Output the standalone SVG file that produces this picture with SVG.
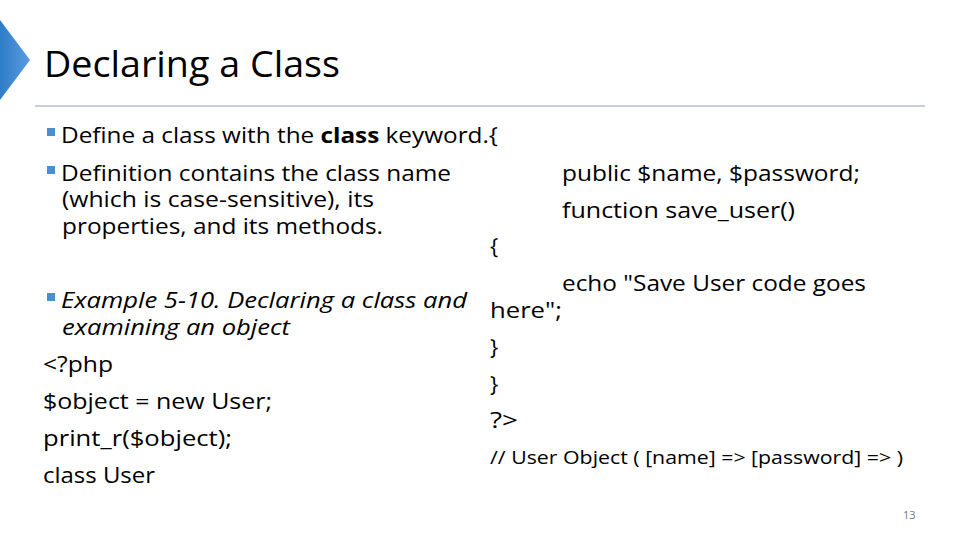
<svg xmlns="http://www.w3.org/2000/svg" width="960" height="540" viewBox="0 0 960 540">
<defs>
<linearGradient id="g" x1="0" y1="0" x2="1" y2="0"><stop offset="0" stop-color="#2f7dc8"/><stop offset="1" stop-color="#5a9be0"/></linearGradient>
</defs>
<style>
text{font-family:"Open Sans","Noto Sans","Liberation Sans",sans-serif;fill:#000}
.b{font-size:22px}
.i{font-style:italic}
</style>
<rect width="960" height="540" fill="#fff"/>
<polygon points="0,20 30,60 0,100" fill="url(#g)"/>
<line x1="35" y1="106" x2="925" y2="106" stroke="#8aa0b4" stroke-width="1"/>
<text x="44" y="77" font-size="36" textLength="296" lengthAdjust="spacingAndGlyphs">Declaring a Class</text>
<g fill="#4a90d0">
<rect x="47" y="128" width="8" height="8"/>
<rect x="47" y="166" width="8" height="8"/>
<rect x="47" y="293" width="8" height="8"/>
</g>
<g class="b">
<text x="61" y="143" textLength="437" lengthAdjust="spacingAndGlyphs">Define a class with the <tspan font-weight="bold">class</tspan> keyword.{</text>
<text x="61" y="181" textLength="390" lengthAdjust="spacingAndGlyphs">Definition contains the class name</text>
<text x="62" y="207" textLength="312" lengthAdjust="spacingAndGlyphs">(which is case-sensitive), its</text>
<text x="62" y="234" textLength="321" lengthAdjust="spacingAndGlyphs">properties, and its methods.</text>
<text x="61" y="308" class="i" textLength="406" lengthAdjust="spacingAndGlyphs">Example 5-10. Declaring a class and</text>
<text x="62" y="335" class="i" textLength="228" lengthAdjust="spacingAndGlyphs">examining an object</text>
<text x="43" y="372" textLength="70" lengthAdjust="spacingAndGlyphs">&lt;?php</text>
<text x="43" y="409" textLength="229" lengthAdjust="spacingAndGlyphs">$object = new User;</text>
<text x="43" y="446" textLength="189" lengthAdjust="spacingAndGlyphs">print_r($object);</text>
<text x="43" y="483" textLength="112" lengthAdjust="spacingAndGlyphs">class User</text>
<text x="562" y="181" textLength="298" lengthAdjust="spacingAndGlyphs">public $name, $password;</text>
<text x="562" y="218" textLength="233" lengthAdjust="spacingAndGlyphs">function save_user()</text>
<text x="490" y="254">{</text>
<text x="562" y="291" textLength="304" lengthAdjust="spacingAndGlyphs">echo "Save User code goes</text>
<text x="490" y="318" textLength="72" lengthAdjust="spacingAndGlyphs">here";</text>
<text x="490" y="355">}</text>
<text x="490" y="392">}</text>
<text x="490" y="428" textLength="28" lengthAdjust="spacingAndGlyphs">?&gt;</text>
</g>
<text x="490" y="464" font-size="18" textLength="413" lengthAdjust="spacingAndGlyphs">// User Object ( [name] =&gt; [password] =&gt; )</text>
<text x="903" y="519" font-size="11" fill="#777" style="fill:#777">13</text>
</svg>
